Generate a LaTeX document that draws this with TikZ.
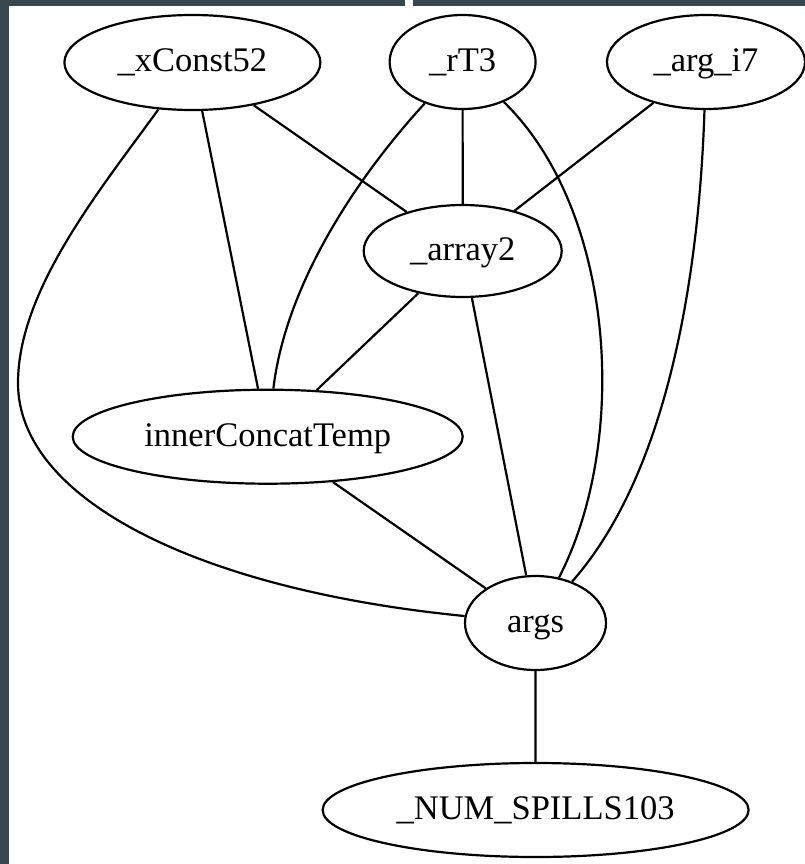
\documentclass[tikz,border=0pt]{standalone}
\usepackage{fontspec}
\setmainfont{Liberation Serif}
\usetikzlibrary{shapes.geometric}
\definecolor{frame}{HTML}{37474F}
\begin{document}
\begin{tikzpicture}[x=1pt,y=-1pt,
  gnode/.style={ellipse,draw,line width=2.2pt,inner sep=0pt,
    font=\fontsize{34.5}{40}\selectfont,text height=25pt,text depth=6pt},
  conn/.style={line width=2.2pt}]
\useasboundingbox (0,0) rectangle (805,864);
\fill[white] (0,0) rectangle (805,864);
\fill[frame] (0,0) rectangle (405,6);
\fill[frame] (413,0) rectangle (805,6);
\fill[frame] (0,0) rectangle (9,864);

\node[gnode,minimum width=256pt,minimum height=95pt] (x52) at (192.4,62.5) {\_xConst52};
\node[gnode,minimum width=146pt,minimum height=94pt] (rT3) at (462.6,62) {\_rT3};
\node[gnode,minimum width=198pt,minimum height=94pt] (argi7) at (706,62) {\_arg\_i7};
\node[gnode,minimum width=198pt,minimum height=92pt] (array2) at (462.7,251) {\_array2};
\node[gnode,minimum width=390pt,minimum height=94pt] (ict) at (267.7,436.7) {innerConcatTemp};
\node[gnode,minimum width=141pt,minimum height=94pt] (args) at (535.5,623) {args};
\node[gnode,minimum width=426pt,minimum height=94pt] (num) at (535.6,810) {\_NUM\_SPILLS103};

\coordinate (lbend) at (18,383);

\draw[conn] (x52) -- (array2);
\draw[conn] (rT3) -- (array2);
\draw[conn] (argi7) -- (array2);
\draw[conn] (array2) -- (ict);
\draw[conn] (array2) -- (args);
\draw[conn] (ict) -- (args);
\draw[conn] (x52) -- (ict);
\draw[conn] (args) -- (num);
\draw[conn] (rT3) .. controls (350,185) and (285,290) .. (ict);
\draw[conn] (rT3) .. controls (615,210) and (630,440) .. (args);
\draw[conn] (argi7) .. controls (700,250) and (675,465) .. (args);
\draw[conn] (x52) .. controls (100,190) and (18,290) .. (lbend)
  .. controls (18,500) and (200,590) .. (args);
\end{tikzpicture}
\end{document}
